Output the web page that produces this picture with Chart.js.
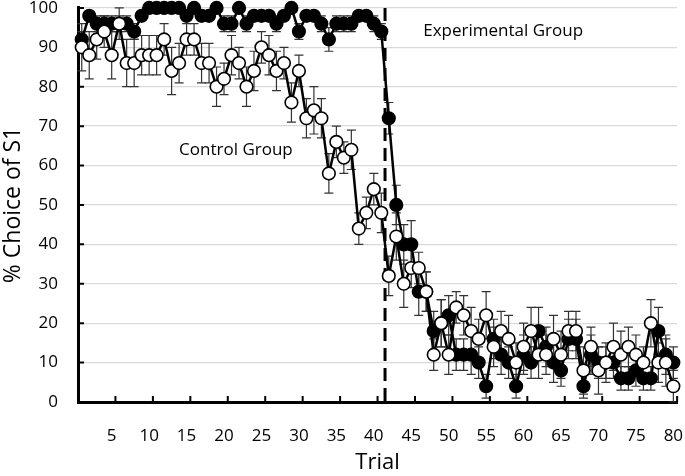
<!DOCTYPE html>
<html>
<head>
<meta charset="utf-8">
<script src="https://cdn.jsdelivr.net/npm/chart.js@4/dist/chart.umd.min.js"></script>
<style>
  html, body { margin: 0; padding: 0; background: #fff; }
</style>
</head>
<body>
<canvas id="choiceChart" width="685" height="476"></canvas>
<script>
// === DATA ===
const trials = [
  '1','2','3','4','5','6','7','8','9','10',
  '11','12','13','14','15','16','17','18','19','20',
  '21','22','23','24','25','26','27','28','29','30',
  '31','32','33','34','35','36','37','38','39','40',
  '41','42','43','44','45','46','47','48','49','50',
  '51','52','53','54','55','56','57','58','59','60',
  '61','62','63','64','65','66','67','68','69','70',
  '71','72','73','74','75','76','77','78','79','80'
];
const xTickLabels = [5, 10, 15, 20, 25, 30, 35, 40, 45, 50, 55, 60, 65, 70, 75, 80];
const yTickValues = [0, 10, 20, 30, 40, 50, 60, 70, 80, 90, 100];

const experimental = [
  92, 98, 96, 96, 96, 96, 96, 94, 98, 100,
  100, 100, 100, 100, 98, 100, 98, 98, 100, 96,
  96, 100, 96, 98, 98, 98, 96, 98, 100, 94,
  98, 98, 96, 92, 96, 96, 96, 98, 98, 96,
  94, 72, 50, 40, 40, 28, 28, 18, 20, 22,
  12, 12, 12, 10, 4, 16, 12, 10, 4, 12,
  10, 18, 14, 10, 8, 16, 16, 4, 12, 10,
  10, 10, 6, 6, 8, 6, 6, 18, 12, 10
];
const experimentalErr = [
  2, 1, 2, 2, 2, 2, 2, 2, 1, 0,
  0, 0, 0, 0, 1, 0, 1, 1, 0, 2,
  2, 0, 2, 1, 1, 1, 2, 1, 0, 2,
  1, 1, 2, 3, 2, 2, 2, 1, 1, 2,
  2, 4, 5, 5, 6, 6, 5, 5, 6, 5,
  4, 4, 5, 4, 3, 5, 5, 4, 3, 5,
  4, 6, 5, 5, 4, 5, 5, 3, 5, 4,
  4, 4, 3, 3, 4, 3, 3, 6, 5, 4
];

const control = [
  90, 88, 92, 94, 88, 96, 86, 86, 88, 88,
  88, 92, 84, 86, 92, 92, 86, 86, 80, 82,
  88, 86, 80, 84, 90, 88, 84, 86, 76, 84,
  72, 74, 72, 58, 66, 62, 64, 44, 48, 54,
  48, 32, 42, 30, 34, 34, 28, 12, 20, 12,
  24, 22, 18, 16, 22, 14, 18, 16, 10, 14,
  18, 12, 12, 16, 12, 18, 18, 8, 14, 8,
  10, 14, 12, 14, 12, 10, 20, 10, 10, 4
];
const controlErr = [
  6, 6, 5, 4, 6, 4, 6, 6, 5, 5,
  5, 4, 6, 5, 4, 4, 5, 5, 5, 4,
  5, 4, 5, 5, 4, 5, 5, 4, 5, 4,
  5, 6, 5, 5, 4, 4, 5, 4, 4, 4,
  5, 5, 6, 6, 5, 4, 5, 4, 6, 5,
  4, 5, 6, 5, 6, 5, 5, 6, 5, 6,
  6, 6, 5, 6, 6, 5, 5, 6, 5, 6,
  5, 6, 6, 5, 5, 4, 6, 5, 6, 4
];

const FONT = 'Open Sans';

// === PLUGINS: error bars, inside ticks, phase line, labels ===
const extras = {
  id: 'extras',
  beforeDatasetsDraw(chart) {
    const { ctx, chartArea, scales: { x, y } } = chart;
    const step = x.getPixelForValue(1) - x.getPixelForValue(0);

    // error bars
    ctx.save();
    ctx.strokeStyle = '#333';
    ctx.lineWidth = 1.2;
    chart.data.datasets.forEach(ds => {
      ds.errors.forEach((e, i) => {
        if (!e) return;
        const px = x.getPixelForValue(i);
        const hi = y.getPixelForValue(ds.data[i] + e);
        const lo = y.getPixelForValue(ds.data[i] - e);
        ctx.beginPath();
        ctx.moveTo(px, hi); ctx.lineTo(px, lo);
        ctx.moveTo(px - 4.5, hi); ctx.lineTo(px + 4.5, hi);
        ctx.moveTo(px - 4.5, lo); ctx.lineTo(px + 4.5, lo);
        ctx.stroke();
      });
    });
    ctx.restore();

    // tick marks pointing into the plot
    ctx.save();
    ctx.strokeStyle = '#000';
    ctx.lineWidth = 2;
    ctx.beginPath();
    yTickValues.forEach(v => {
      const py = y.getPixelForValue(v);
      ctx.moveTo(chartArea.left, py); ctx.lineTo(chartArea.left + 6, py);
    });
    xTickLabels.forEach(n => {
      const px = x.getPixelForValue(n - 1) + step / 2;
      ctx.moveTo(px, chartArea.bottom); ctx.lineTo(px, chartArea.bottom - 6);
    });
    ctx.stroke();
    ctx.restore();

    // dashed line between trial 41 and 42
    const dx = x.getPixelForValue(40) + step / 2;
    ctx.save();
    ctx.strokeStyle = '#000';
    ctx.lineWidth = 3;
    ctx.setLineDash([13, 7]);
    ctx.beginPath();
    ctx.moveTo(dx, chartArea.top);
    ctx.lineTo(dx, chartArea.bottom);
    ctx.stroke();
    ctx.restore();
  },
  afterDatasetsDraw(chart) {
    const { ctx, scales: { x, y } } = chart;
    ctx.save();
    ctx.fillStyle = '#000';
    ctx.font = '17px "' + FONT + '"';
    ctx.textBaseline = 'middle';
    ctx.textAlign = 'left';
    ctx.fillText('Experimental Group', x.getPixelForValue(45.6), y.getPixelForValue(94));
    ctx.fillText('Control Group', x.getPixelForValue(13), y.getPixelForValue(64));
    ctx.restore();
  }
};

// === CREATE CHART ===
const ctx = document.getElementById('choiceChart').getContext('2d');
const chart = new Chart(ctx, {
  type: 'line',
  data: {
    labels: trials,
    datasets: [
      {
        label: 'Control Group',
        data: control,
        errors: controlErr,
        borderColor: '#000',
        borderWidth: 2.5,
        pointRadius: 6.3,
        pointBorderWidth: 1.6,
        pointBackgroundColor: '#fff',
        pointBorderColor: '#000',
        tension: 0,
        clip: false
      },
      {
        label: 'Experimental Group',
        data: experimental,
        errors: experimentalErr,
        borderColor: '#000',
        borderWidth: 2.5,
        pointRadius: 6.3,
        pointBorderWidth: 1.6,
        pointBackgroundColor: '#000',
        pointBorderColor: '#000',
        tension: 0,
        clip: false
      }
    ]
  },
  options: {
    responsive: false,
    animation: false,
    layout: { padding: { left: 0, right: 6, top: 7, bottom: 0 } },
    plugins: {
      legend: { display: false },
      tooltip: { enabled: false }
    },
    scales: {
      x: {
        type: 'category',
        offset: true,
        grid: { display: false, drawTicks: false },
        border: { display: true, color: '#000', width: 3 },
        ticks: {
          autoSkip: false,
          maxRotation: 0,
          padding: 24,
          color: '#000',
          font: { family: FONT, size: 17 },
          callback: function (val) {
            const t = this.getLabelForValue(val);
            return xTickLabels.includes(Number(t)) ? t : '';
          }
        },
        title: {
          display: true,
          text: 'Trial',
          color: '#000',
          font: { family: FONT, size: 22 },
          padding: { top: 0, bottom: 0 }
        },
        afterFit(scale) {
          scale.height = 74;
          scale.paddingLeft = 0;
          scale.paddingRight = 0;
        }
      },
      y: {
        min: 0,
        max: 100,
        ticks: {
          stepSize: 10,
          padding: 20,
          color: '#000',
          font: { family: FONT, size: 17 }
        },
        grid: {
          drawTicks: false,
          lineWidth: 1.3,
          color: c => (c.tick && c.tick.value === 0 ? 'rgba(0,0,0,0)' : '#d9d9d9')
        },
        border: { color: '#000', width: 3 },
        title: {
          display: true,
          text: '% Choice of S1',
          color: '#000',
          font: { family: FONT, size: 23 },
          padding: 0
        },
        afterFit(scale) {
          scale.width = 78;
          scale.paddingTop = 0;
          scale.paddingBottom = 0;
        }
      }
    }
  },
  plugins: [extras]
});
</script>
</body>
</html>
